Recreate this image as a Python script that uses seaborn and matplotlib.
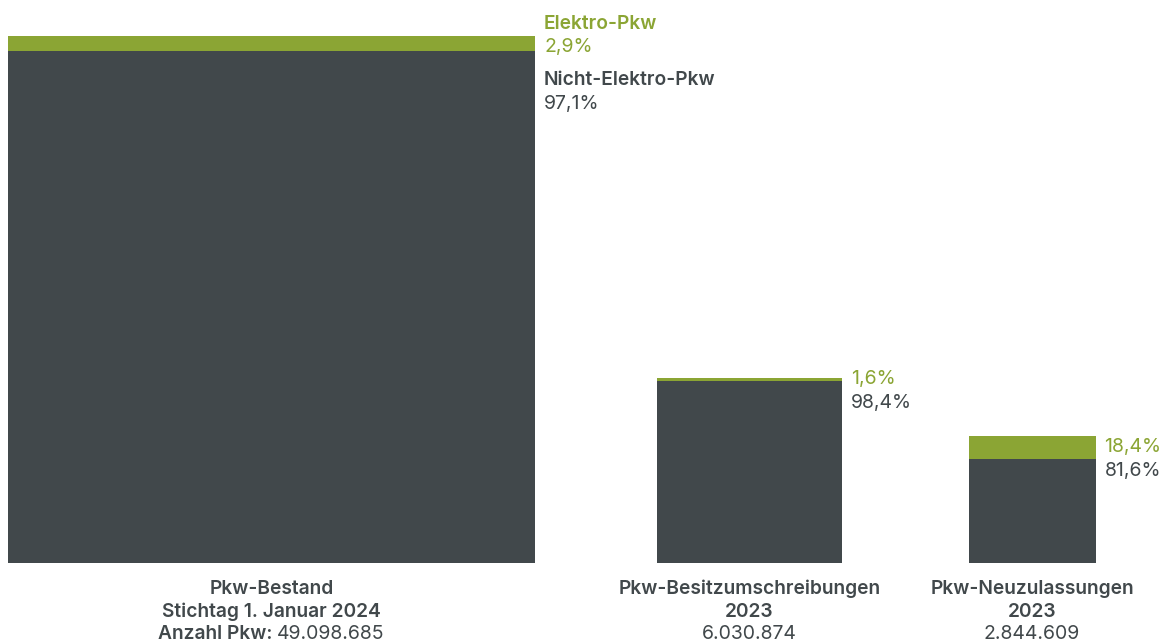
import numpy as np
import matplotlib
matplotlib.use("Agg")
import matplotlib.pyplot as plt
import seaborn as sns

# Passenger-car figures for Germany
categories = ["Pkw-Bestand", "Pkw-Besitzumschreibungen", "Pkw-Neuzulassungen"]
subtitles = ["Stichtag 1. Januar 2024", "2023", "2023"]
totals = [49098685, 6030874, 2844609]
electric_share = [2.9, 1.6, 18.4]          # percent of each total
segment_names = ["Elektro-Pkw", "Nicht-Elektro-Pkw"]
count_prefix = "Anzahl Pkw:"

GREEN = "#8BA534"
DARK = "#41484B"
FS_BOLD = 13.8
FS_NUM = 14.0

sns.set_theme(style="white")
plt.rcParams["font.family"] = ["Inter", "DejaVu Sans"]


def de_num(n):
    return f"{n:,}".replace(",", ".")


def de_pct(p):
    return f"{p:.1f}".replace(".", ",") + "%"


# Each bar is a square whose area is proportional to the count
side = np.sqrt(np.array(totals, dtype=float))
share = np.array(electric_share) / 100.0
dark_h = side * (1 - share)

px = side[0] / 527.0            # data units per pixel
gaps = np.array([122, 127]) * px
left0 = 8 * px
lefts = left0 + np.concatenate([[0], np.cumsum(side[:-1] + gaps)])
centers = lefts + side / 2

fig = plt.figure(figsize=(11.61, 6.41), dpi=100)
ax = fig.add_axes([0, 0, 1, 1])

# full square in green, the non-electric part drawn over it in dark grey
sns.barplot(x=centers, y=side, native_scale=True, color=GREEN, saturation=1,
            errorbar=None, linewidth=0, ax=ax)
sns.barplot(x=centers, y=dark_h, native_scale=True, color=DARK, saturation=1,
            errorbar=None, linewidth=0, ax=ax)
for patch, l, w in zip(ax.patches, np.tile(lefts, 2), np.tile(side, 2)):
    patch.set_x(l)
    patch.set_width(w)

ax.set_xlim(0, 1161 * px)
ax.set_ylim(-78 * px, 563 * px)
ax.set_axis_off()


def label(x, y, dy_px, text, color, bold, ha="left"):
    return ax.annotate(text, (x, y), xytext=(0, -dy_px), textcoords="offset pixels",
                       ha=ha, va="center", color=color,
                       fontsize=FS_BOLD if bold else FS_NUM,
                       fontweight="semibold" if bold else "normal")


for i in range(len(totals)):
    rx = lefts[i] + side[i] + 9 * px
    gy = (side[i] + dark_h[i]) / 2
    if i == 0:
        label(rx, gy, -20, segment_names[0], GREEN, True)
        label(rx, gy, 3, de_pct(electric_share[i]), GREEN, False)
        label(rx, gy, 36, segment_names[1], DARK, True)
        label(rx, gy, 60, de_pct(100 - electric_share[i]), DARK, False)
    else:
        label(rx, gy, -1, de_pct(electric_share[i]), GREEN, False)
        label(rx, gy, 23, de_pct(100 - electric_share[i]), DARK, False)

    # category captions beneath the squares
    label(centers[i], 0, 26, categories[i], DARK, True, ha="center")
    label(centers[i], 0, 49, subtitles[i], DARK, True, ha="center")
    if i == 0:
        fig.canvas.draw()
        r = fig.canvas.get_renderer()
        t1 = label(centers[i], 0, 71, count_prefix + " ", DARK, True)
        t2 = label(centers[i], 0, 71, de_num(totals[i]), DARK, False)
        w1 = t1.get_window_extent(r).width
        w2 = t2.get_window_extent(r).width
        start = -(w1 + w2) / 2
        t1.set_position((start, -71))
        t2.set_position((start + w1, -71))
    else:
        label(centers[i], 0, 71, de_num(totals[i]), DARK, False, ha="center")

fig.savefig("out.png", dpi=100, facecolor="white")
